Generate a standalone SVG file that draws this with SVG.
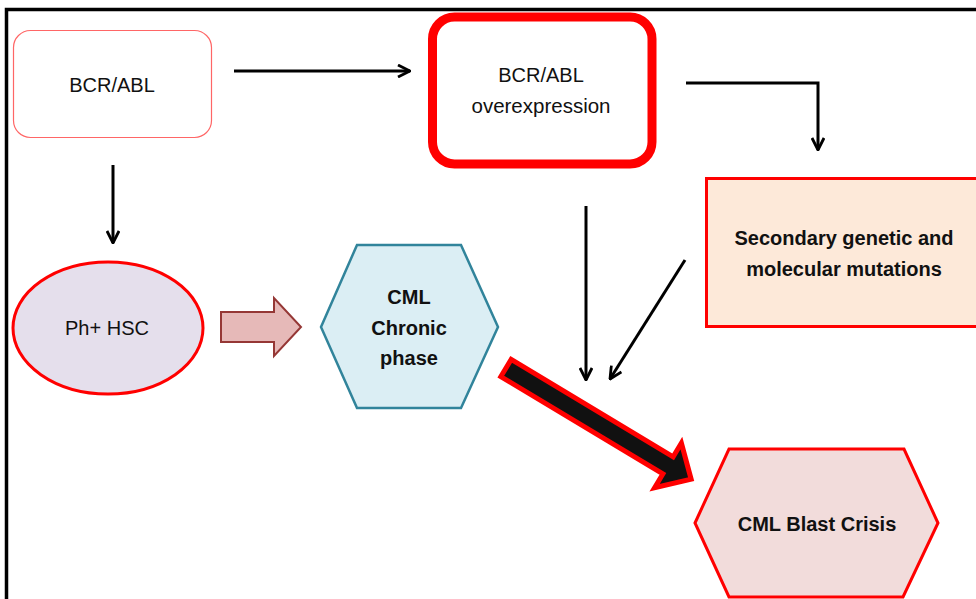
<svg xmlns="http://www.w3.org/2000/svg" width="976" height="599" viewBox="0 0 976 599">
<defs>
<style>
text{font-family:"Liberation Sans",Arial,sans-serif;fill:#111;text-anchor:middle}
.reg{font-size:20px}
.bold{font-size:20px;font-weight:bold}
.conn{fill:none;stroke:#000;stroke-width:3}
</style>
<marker id="ah" viewBox="0 0 14 14" refX="13" refY="7" markerWidth="14" markerHeight="14" markerUnits="userSpaceOnUse" orient="auto">
<path d="M1,1 L13,7 L1,13" fill="none" stroke="#000" stroke-width="2.8"/>
</marker>
</defs>
<rect width="976" height="599" fill="#fff"/>
<path d="M6.5,600 L6.5,9.5 L980,9.5" fill="none" stroke="#000" stroke-width="3.5"/>

<g id="bcrabl">
<rect x="13.5" y="30.5" width="198" height="107" rx="17" fill="#fff" stroke="#ff6666" stroke-width="1.2"/>
<text class="reg" x="112" y="92">BCR/ABL</text>
</g>

<g id="overexpression">
<rect x="432.5" y="17" width="219.5" height="147" rx="22" fill="#fff" stroke="#ff0000" stroke-width="9"/>
<text class="reg" x="541" y="82">BCR/ABL</text>
<text class="reg" x="541" y="113" style="font-size:20.5px">overexpression</text>
</g>

<g id="secondary">
<rect x="706.5" y="178.5" width="275" height="148" fill="#fde9d9" stroke="#ff0000" stroke-width="3"/>
<text class="bold" x="844" y="245">Secondary genetic and</text>
<text class="bold" x="844" y="276">molecular mutations</text>
</g>

<g id="phhsc">
<ellipse cx="108" cy="328" rx="95" ry="66" fill="#e5dfec" stroke="#ff0000" stroke-width="3"/>
<text class="reg" x="107" y="335">Ph+ HSC</text>
</g>

<g id="chronic">
<polygon points="321,327 357,245 461,245 498,327 461,408 357,408" fill="#dbeef4" stroke="#31849b" stroke-width="2.5"/>
<text class="bold" x="409" y="304">CML</text>
<text class="bold" x="409" y="335">Chronic</text>
<text class="bold" x="409" y="365">phase</text>
</g>

<g id="blast">
<polygon points="695,523 729,449 904,449 938,523 903,597 729,597" fill="#f2dcdb" stroke="#ff0000" stroke-width="3"/>
<text class="bold" x="817" y="531">CML Blast Crisis</text>
</g>

<g id="connectors">
<path class="conn" d="M234,71 L410,71" marker-end="url(#ah)"/>
<path class="conn" d="M113,165 L113,243" marker-end="url(#ah)"/>
<path class="conn" d="M686,83 L818,83 L818,150" marker-end="url(#ah)"/>
<path class="conn" d="M586,206 L586,380" marker-end="url(#ah)"/>
<path class="conn" d="M685,260 L610,379" marker-end="url(#ah)"/>
<polygon points="221,312 274,312 274,298 301,327 274,356 274,342 221,342" fill="#e6b9b8" stroke="#953735" stroke-width="2"/>
<g transform="translate(506,368) rotate(31)">
<polygon points="0,-10 189,-10 189,-26 216,0 189,26 189,10 0,10" fill="#111" stroke="#ff0000" stroke-width="5" stroke-linejoin="miter"/>
</g>
</g>
</svg>
